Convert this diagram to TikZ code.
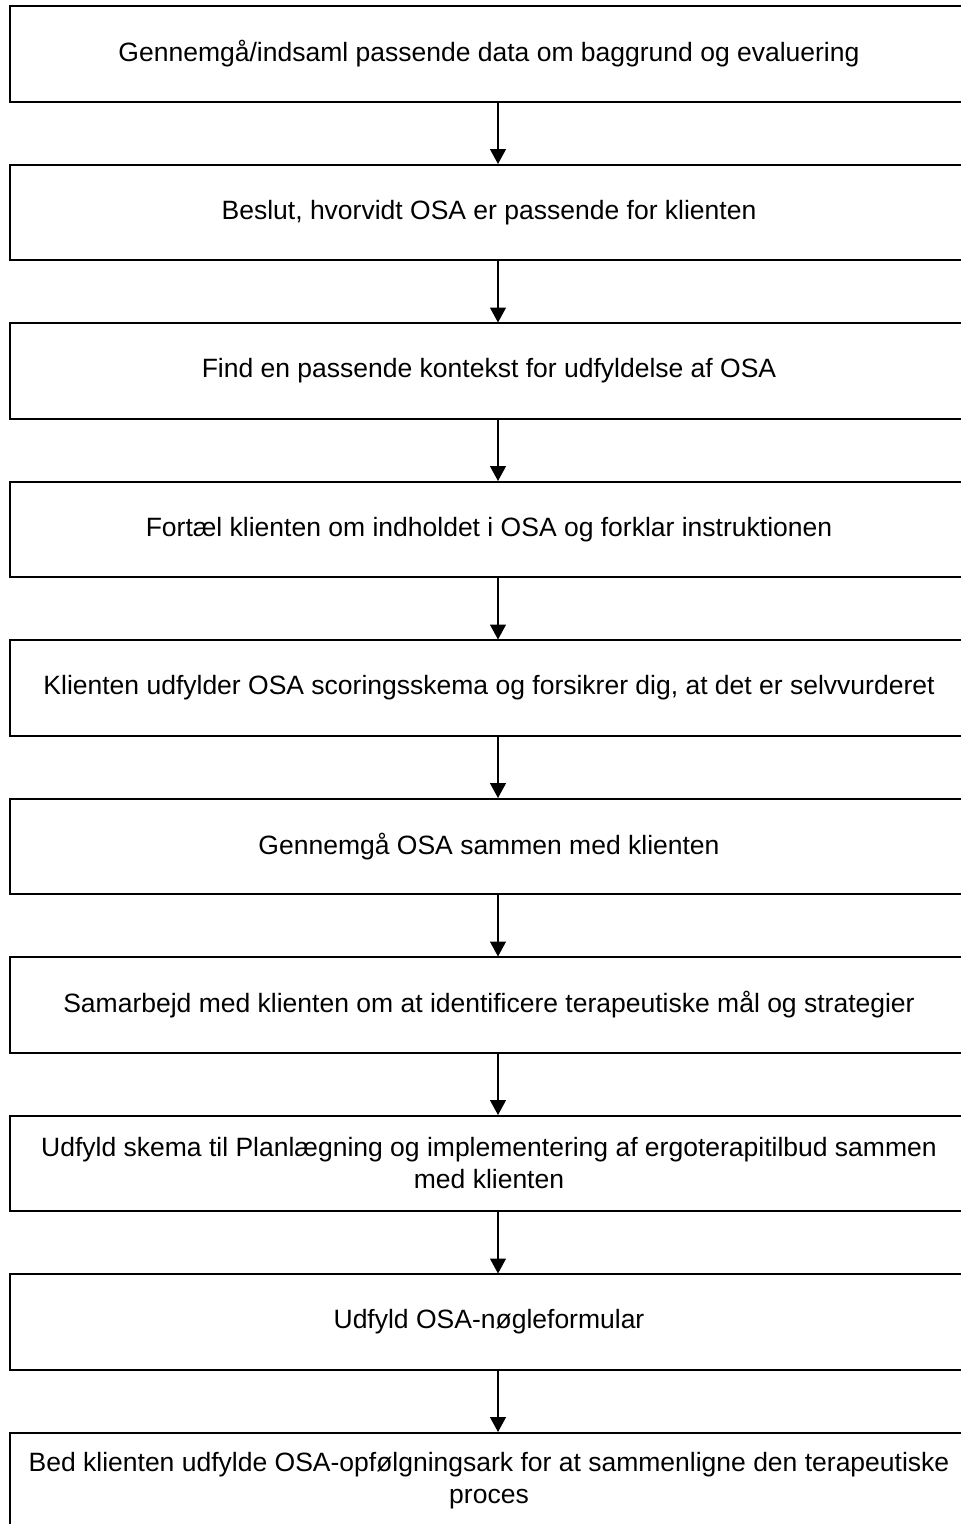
\documentclass[tikz,border=0pt]{standalone}
\usepackage{fontspec}
\setmainfont{Liberation Sans}
\usetikzlibrary{arrows.meta}
\tikzset{
  stepbox/.style={draw=black, line width=2pt, rectangle, minimum width=958pt, minimum height=95.5pt, inner sep=0pt, align=center, font=\fontsize{26.5}{32}\selectfont},
  flowarrow/.style={line width=1.3pt, -{Triangle[width=16pt,length=15pt]}, shorten >=-0.5pt}
}
\begin{document}
\begin{tikzpicture}[x=1pt,y=-1pt]
\useasboundingbox (0,0) rectangle (961,1524);
\node[stepbox] (b1)  at (489, 53.75) {Gennemgå/indsaml passende data om baggrund og evaluering};
\node[stepbox] (b2)  at (489, 212.25) {Beslut, hvorvidt OSA er passende for klienten};
\node[stepbox] (b3)  at (489, 370.75) {Find en passende kontekst for udfyldelse af OSA};
\node[stepbox] (b4)  at (489, 529.25) {Fortæl klienten om indholdet i OSA og forklar instruktionen};
\node[stepbox] (b5)  at (489, 687.75) {Klienten udfylder OSA scoringsskema og forsikrer dig, at det er selvvurderet};
\node[stepbox] (b6)  at (489, 846.25) {Gennemgå OSA sammen med klienten};
\node[stepbox] (b7)  at (489, 1004.75) {Samarbejd med klienten om at identificere terapeutiske mål og strategier};
\node[stepbox] (b8)  at (489, 1163.25) {Udfyld skema til Planlægning og implementering af ergoterapitilbud sammen\\med klienten};
\node[stepbox] (b9)  at (489, 1321.75) {Udfyld OSA-nøgleformular};
\node[stepbox] (b10) at (489, 1480.25) {Bed klienten udfylde OSA-opfølgningsark for at sammenligne den terapeutiske\\proces};
\foreach \a/\b in {b1/b2,b2/b3,b3/b4,b4/b5,b5/b6,b6/b7,b7/b8,b8/b9,b9/b10}{
  \draw[flowarrow] ([xshift=9pt]\a.south) -- ([xshift=9pt]\b.north);
}
\end{tikzpicture}
\end{document}
